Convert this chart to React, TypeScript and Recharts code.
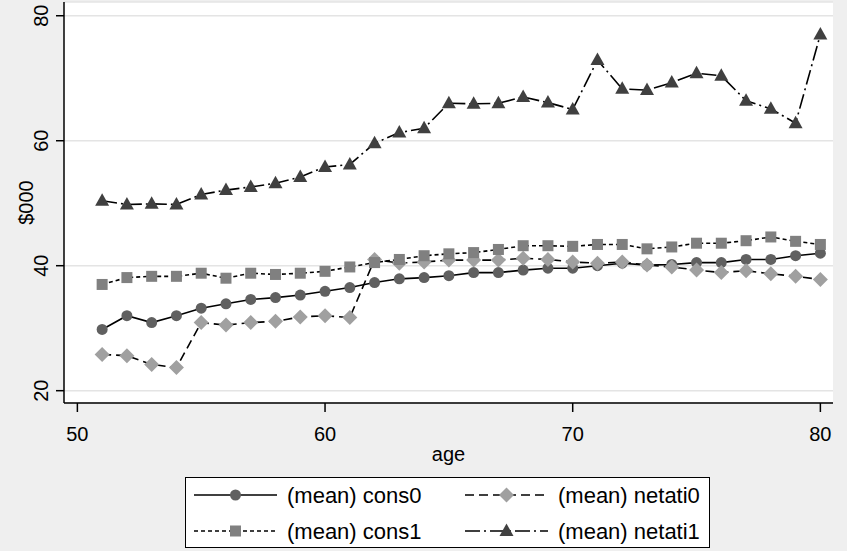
import React from 'react';
import { LineChart, Line, XAxis, YAxis, CartesianGrid, Label } from 'recharts';

// Mean consumption and net assets ($000) by age
const ages = [51, 52, 53, 54, 55, 56, 57, 58, 59, 60, 61, 62, 63, 64, 65, 66, 67, 68, 69, 70, 71, 72, 73, 74, 75, 76, 77, 78, 79, 80];
const cons0 = [29.8, 32.0, 30.9, 32.0, 33.2, 33.9, 34.6, 34.9, 35.3, 35.9, 36.5, 37.3, 37.9, 38.1, 38.4, 38.9, 38.9, 39.3, 39.6, 39.6, 40.0, 40.4, 40.1, 40.2, 40.5, 40.5, 41.0, 41.0, 41.6, 42.0];
const netati0 = [25.8, 25.6, 24.2, 23.7, 30.9, 30.5, 30.9, 31.1, 31.8, 32.0, 31.7, 41.0, 40.4, 40.6, 40.9, 40.9, 40.9, 41.2, 41.0, 40.6, 40.4, 40.6, 40.1, 39.8, 39.3, 38.9, 39.2, 38.7, 38.3, 37.8];
const cons1 = [37.0, 38.1, 38.3, 38.3, 38.8, 38.0, 38.8, 38.6, 38.8, 39.1, 39.8, 40.5, 41.0, 41.6, 41.9, 42.1, 42.6, 43.2, 43.2, 43.1, 43.4, 43.4, 42.7, 43.0, 43.6, 43.6, 44.0, 44.6, 43.9, 43.4];
const netati1 = [50.4, 49.8, 49.9, 49.8, 51.4, 52.1, 52.6, 53.2, 54.2, 55.8, 56.2, 59.6, 61.3, 62.0, 66.0, 65.9, 66.0, 67.0, 66.1, 65.0, 72.9, 68.3, 68.1, 69.3, 70.8, 70.4, 66.4, 65.1, 62.8, 77.0];

const xTicks = [50, 60, 70, 80];
const yTicks = [20, 40, 60, 80];

type Shape = 'circle' | 'diamond' | 'square' | 'triangle';
type Series = { key: string; label: string; shape: Shape; fill: string; dash?: string };

const series: Series[] = [
  { key: 'cons0', label: '(mean) cons0', shape: 'circle', fill: '#606060' },
  { key: 'netati0', label: '(mean) netati0', shape: 'diamond', fill: '#a0a0a0', dash: '9 5' },
  { key: 'cons1', label: '(mean) cons1', shape: 'square', fill: '#808080', dash: '4 3' },
  { key: 'netati1', label: '(mean) netati1', shape: 'triangle', fill: '#404040', dash: '15 4 2 4' },
];

const values: Record<string, number[]> = { cons0, netati0, cons1, netati1 };
const data = ages.map((age, i) => {
  const row: Record<string, number> = { age };
  series.forEach((s) => {
    row[s.key] = values[s.key][i];
  });
  return row;
});

const W = 847;
const H = 551;
const FONT = '"Liberation Sans", Arial, sans-serif';
const BG = '#efefef';

function Marker({ shape, cx, cy, fill }: { shape: Shape; cx: number; cy: number; fill: string }) {
  if (cx == null || cy == null) return null;
  switch (shape) {
    case 'circle':
      return <circle cx={cx} cy={cy} r={5.5} fill={fill} />;
    case 'square':
      return <rect x={cx - 5.5} y={cy - 5.5} width={11} height={11} fill={fill} />;
    case 'diamond':
      return <polygon points={`${cx},${cy - 7.5} ${cx + 7.5},${cy} ${cx},${cy + 7.5} ${cx - 7.5},${cy}`} fill={fill} />;
    case 'triangle':
      return <polygon points={`${cx},${cy - 7.5} ${cx + 7},${cy + 5} ${cx - 7},${cy + 5}`} fill={fill} />;
  }
  return null;
}

const YTick = (props: any) => {
  const { x, y, payload } = props;
  return (
    <text x={x} y={y} transform={`rotate(-90 ${x} ${y})`} textAnchor="middle" fontSize={20} fill="#000" fontFamily={FONT}>
      {payload.value}
    </text>
  );
};

const YTitle = (props: any) => {
  const vb = props.viewBox;
  const x = vb.x + 33;
  const y = vb.y + vb.height / 2;
  return (
    <text x={x} y={y} transform={`rotate(-90 ${x} ${y})`} textAnchor="middle" fontSize={20} fill="#000" fontFamily={FONT}>
      $000
    </text>
  );
};

// Legend: two columns, filled row by row
const legendBox = { left: 185, top: 477, width: 525, height: 71 };
const legendCols = [9, 280];
const legendRows = [18, 54];
const symW = 83;

function LegendBox() {
  return (
    <svg
      width={legendBox.width}
      height={legendBox.height}
      style={{ position: 'absolute', left: legendBox.left, top: legendBox.top }}
    >
      <rect x={0.5} y={0.5} width={legendBox.width - 1} height={legendBox.height - 1} fill="#fff" stroke="#000" strokeWidth={1} />
      {series.map((s, i) => {
        const col = legendCols[i % 2];
        const row = legendRows[Math.floor(i / 2)];
        return (
          <g key={s.key}>
            <line x1={col} x2={col + symW} y1={row} y2={row} stroke="#000" strokeWidth={1.5} strokeDasharray={s.dash} />
            <Marker shape={s.shape} cx={col + symW / 2} cy={row} fill={s.fill} />
            <text x={col + symW + 10} y={row} dy="0.35em" fontSize={22} fontFamily={FONT} fill="#000">
              {s.label}
            </text>
          </g>
        );
      })}
    </svg>
  );
}

export default function App() {
  return (
    <div style={{ position: 'fixed', left: 0, top: 0, width: W, height: H, background: BG, fontFamily: FONT }}>
      <LineChart width={W} height={H} data={data} margin={{ top: 2, right: 14, bottom: 108, left: 0 }} style={{ fontFamily: FONT }}>
        <CartesianGrid horizontal vertical={false} fill="#fff" stroke="#e4e4e4" strokeWidth={1.5} />
        <XAxis
          dataKey="age"
          type="number"
          domain={[49.46, 80.51]}
          ticks={xTicks}
          allowDataOverflow
          height={40}
          tickSize={9}
          tickMargin={15}
          axisLine={{ stroke: '#000', strokeWidth: 1.5 }}
          tickLine={{ stroke: '#000', strokeWidth: 1.5 }}
          tick={{ fontSize: 20, fill: '#000', fontFamily: FONT }}
        >
          <Label value="age" position="bottom" offset={4} style={{ fontSize: 20, fill: '#000', fontFamily: FONT }} />
        </XAxis>
        <YAxis
          type="number"
          domain={[18.03, 82.2]}
          ticks={yTicks}
          allowDataOverflow
          width={64}
          tickSize={8}
          tickMargin={8}
          axisLine={{ stroke: '#000', strokeWidth: 1.5 }}
          tickLine={{ stroke: '#000', strokeWidth: 1.5 }}
          tick={<YTick />}
        >
          <Label content={<YTitle />} />
        </YAxis>
        {series.map((s) => (
          <Line
            key={s.key}
            dataKey={s.key}
            stroke="#000"
            strokeWidth={1.6}
            strokeDasharray={s.dash}
            isAnimationActive={false}
            activeDot={false}
            dot={(p: any) => <Marker key={`${s.key}-${p.index}`} shape={s.shape} cx={p.cx} cy={p.cy} fill={s.fill} />}
          />
        ))}
      </LineChart>
      <LegendBox />
    </div>
  );
}
